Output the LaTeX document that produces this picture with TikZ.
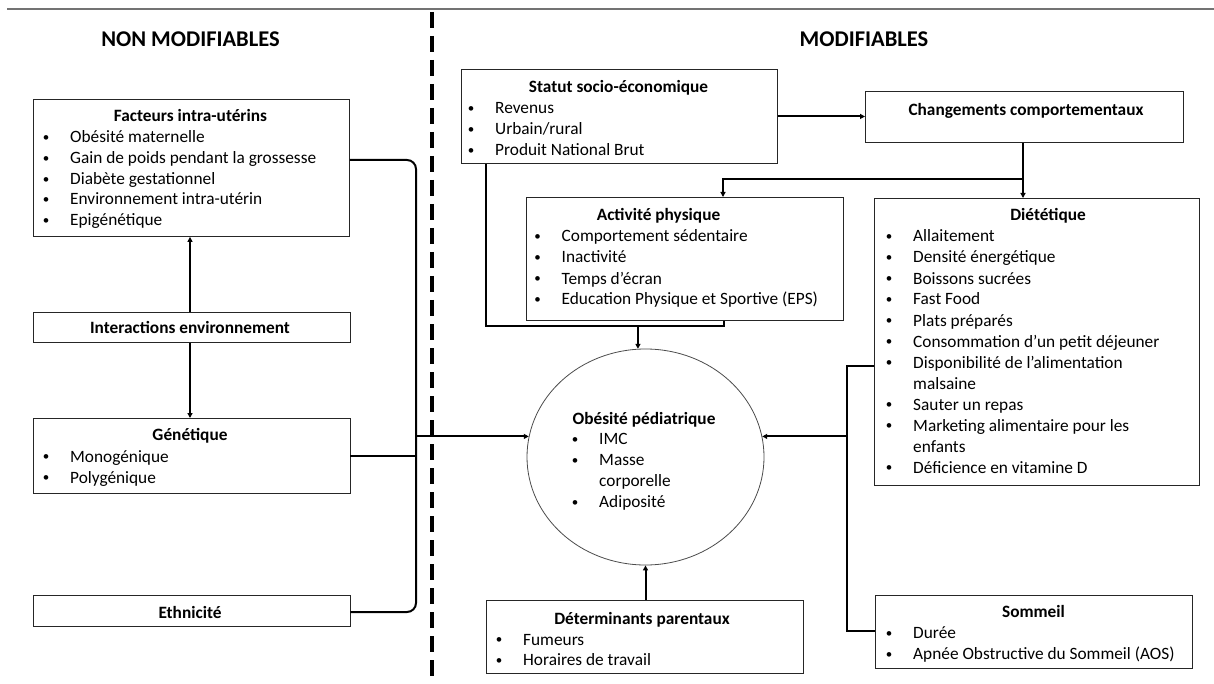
\documentclass[tikz,border=0pt]{standalone}
\usepackage{fontspec}
\setmainfont{Carlito}
\usetikzlibrary{arrows.meta,shapes.geometric}
\newcommand\bodyf{\fontsize{17.3}{21}\selectfont}
\newcommand\bulf{\fontsize{13}{13}\selectfont}
\newcommand\headf{\fontsize{22.5}{27}\selectfont\bfseries}
\newcommand\bitem[4]{\node[bull] (#1b) at (#2+2,#3-1.2) {\textbullet}; \node[txt] (#1) at (#2+26,#3) {#4};}
\tikzset{
  box/.style={draw=black!85, line width=0.9pt, rectangle, inner sep=0pt, anchor=north west},
  conn/.style={line width=2pt, black},
  arr/.style={line width=2pt, black, -{Triangle[length=5pt,width=5pt]}},
  txt/.style={anchor=base west, inner sep=0pt, font=\bodyf, yshift=-1.5pt},
  bull/.style={anchor=base, inner sep=0pt, font=\bulf, yshift=-1.5pt},
  ttl/.style={anchor=base, inner sep=0pt, font=\bodyf\bfseries, yshift=-1.5pt},
  head/.style={anchor=base, inner sep=0pt, font=\headf},
}
\begin{document}
\begin{tikzpicture}[x=1pt,y=-1pt]
\useasboundingbox[fill=white] (0,0) rectangle (1214,684);
% separators
\coordinate (tl) at (7,9); \coordinate (tr) at (1214,9);
\draw[black!55, line width=1.2pt] (tl) -- (tr);
\coordinate (dt) at (432,12); \coordinate (db) at (432,684);
\draw[line width=3.5pt, dash pattern=on 16pt off 8pt] (dt) -- (db);
% headings
\node[head] (hnm) at (190.5,47) {NON MODIFIABLES};
\node[head] (hm) at (864,46.5) {MODIFIABLES};

% ---------- left boxes
\node[box, minimum width=316pt, minimum height=137pt] (fi) at (33,99) {};
\node[ttl] (fit) at (190.5,120) {Facteurs intra-utérins};
\bitem{fi1}{44}{141}{Obésité maternelle}
\bitem{fi2}{44}{162}{Gain de poids pendant la grossesse}
\bitem{fi3}{44}{183}{Diabète gestationnel}
\bitem{fi4}{44}{203.5}{Environnement intra-utérin}
\bitem{fi5}{44}{224}{Epigénétique}

\node[box, minimum width=317pt, minimum height=30pt] (ie) at (32.5,312) {};
\node[ttl] (iet) at (190,332) {Interactions environnement};

\node[box, minimum width=317pt, minimum height=75pt] (ge) at (32.5,418) {};
\node[ttl] (get) at (190,439) {Génétique};
\bitem{ge1}{44}{460.5}{Monogénique}
\bitem{ge2}{44}{481.5}{Polygénique}

\node[box, minimum width=317pt, minimum height=31pt] (et) at (32.5,595) {};
\node[ttl] (ett) at (190,617) {Ethnicité};

% ---------- right boxes
\node[box, minimum width=316pt, minimum height=94pt] (ss) at (461,69) {};
\node[ttl] (sst) at (618.5,91.5) {Statut socio-économique};
\bitem{ss1}{469}{112}{Revenus}
\bitem{ss2}{469}{133}{Urbain/rural}
\bitem{ss3}{469}{154}{Produit National Brut}

\node[box, minimum width=318pt, minimum height=51pt] (ch) at (865,91) {};
\node[ttl] (cht) at (1026,114.5) {Changements comportementaux};

\node[box, minimum width=317pt, minimum height=123pt] (ap) at (526,197) {};
\node[ttl] (apt) at (658.5,219) {Activité physique};
\bitem{ap1}{535.5}{240.5}{Comportement sédentaire}
\bitem{ap2}{535.5}{261.5}{Inactivité}
\bitem{ap3}{535.5}{282.5}{Temps d’écran}
\bitem{ap4}{535.5}{303.5}{Education Physique et Sportive (EPS)}

\node[box, minimum width=325pt, minimum height=287pt] (di) at (874,198) {};
\node[ttl] (dit) at (1048,219) {Diététique};
\bitem{di1}{887}{240.5}{Allaitement}
\bitem{di2}{887}{261.5}{Densité énergétique}
\bitem{di3}{887}{282.5}{Boissons sucrées}
\bitem{di4}{887}{303.5}{Fast Food}
\bitem{di5}{887}{324.5}{Plats préparés}
\bitem{di6}{887}{345.5}{Consommation d’un petit déjeuner}
\bitem{di7}{887}{366.5}{Disponibilité de l’alimentation}
\node[txt] (di7c) at (913,387.5) {malsaine};
\bitem{di8}{887}{408.5}{Sauter un repas}
\bitem{di9}{887}{429.5}{Marketing alimentaire pour les}
\node[txt] (di9c) at (913,450.5) {enfants};
\bitem{di10}{887}{471.5}{Déficience en vitamine D}

\node[box, minimum width=317pt, minimum height=73pt] (so) at (875,595) {};
\node[ttl] (sot) at (1033.5,616) {Sommeil};
\bitem{so1}{887}{637}{Durée}
\bitem{so2}{887}{658}{Apnée Obstructive du Sommeil (AOS)}

\node[box, minimum width=317pt, minimum height=73pt] (dp) at (486,600) {};
\node[ttl] (dpt) at (642,623) {Déterminants parentaux};
\bitem{dp1}{497}{643.5}{Fumeurs}
\bitem{dp2}{497}{664}{Horaires de travail}

% ---------- central ellipse
\node[draw=black!70, line width=0.8pt, ellipse, minimum width=237pt, minimum height=216pt, inner sep=0pt] (ob) at (645.5,457) {};
\node[ttl] (obt) at (644,422.5) {Obésité pédiatrique};
\bitem{ob1}{573}{443}{IMC}
\bitem{ob2}{573}{464}{Masse}
\node[txt] (ob2c) at (599,485) {corporelle};
\bitem{ob3}{573}{506}{Adiposité}

% ---------- connectors, left
\draw[arr] (ie.north -| iet) -- (fi.south -| iet);
\draw[arr] (ie.south -| iet) -- (ge.north -| iet);
\coordinate (j1) at (416,160);
\coordinate (j2) at (416,612);
\draw[conn, rounded corners=9pt] (fi.east |- j1) -- (j1) -- (j2) -- (et.east |- j2);
\draw[conn] (ge.east) -- (ge.east -| j1);
\draw[arr] (ob.170 -| j1) -- (ob.170);

% ---------- connectors, right
\draw[arr] (ss.east) -- (ch.west |- ss.east);
\coordinate (j3) at (723,179);
\coordinate (j4) at (1023,179);
\draw[conn] (j4 |- ch.south) -- (j4);
\draw[arr] (j4) -- (j4 |- di.north);
\draw[arr] (j4) -- (j3) -- (j3 |- ap.north);
\coordinate (k1) at (486,326);
\coordinate (k2) at (724,326);
\draw[conn] (k1 |- ss.south) -- (k1) -- (k2) -- (k2 |- ap.south);
\draw[arr] (ob.94 |- k1) -- (ob.94);
\coordinate (m1) at (847,366);
\coordinate (m2) at (847,631);
\draw[conn] (di.west |- m1) -- (m1) -- (m2) -- (so.west |- m2);
\draw[arr] (ob.10 -| m1) -- (ob.10);
\draw[arr] (dp.north -| ob.south) -- (ob.south);
\end{tikzpicture}
\end{document}
